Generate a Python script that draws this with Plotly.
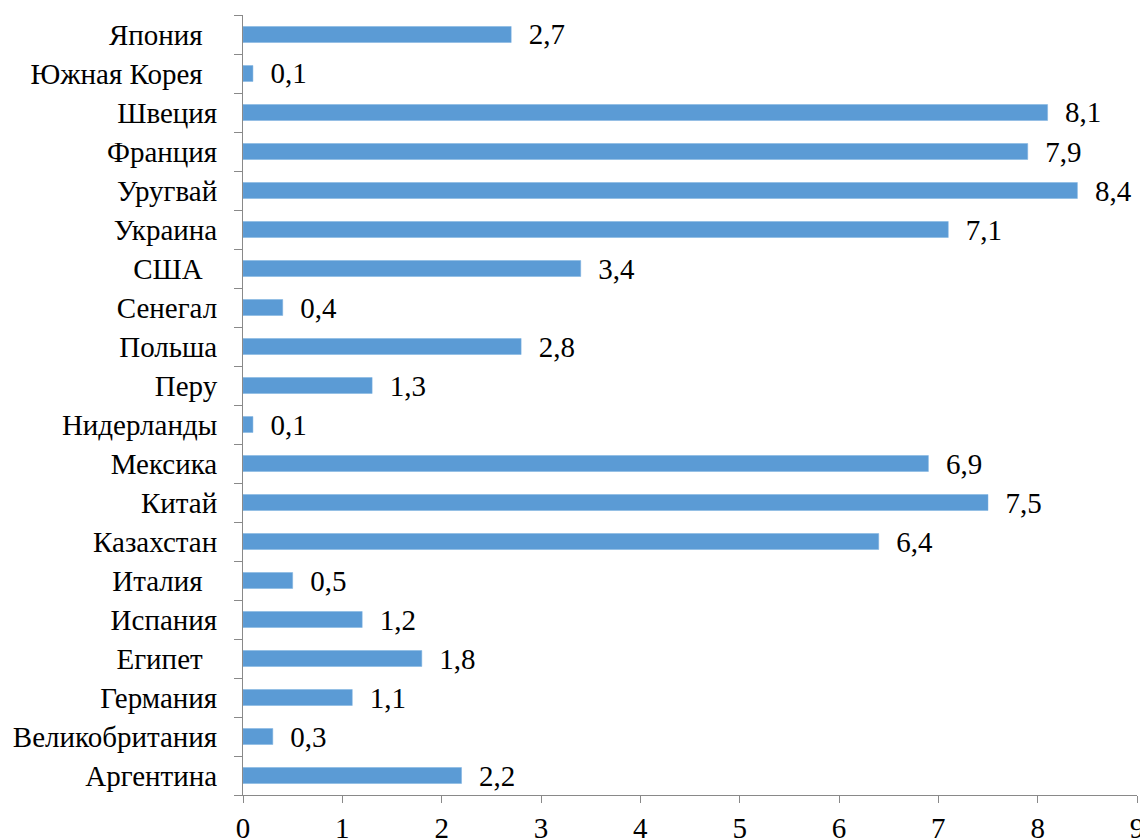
import plotly.graph_objects as go

countries = ["Аргентина", "Великобритания", "Германия", "Египет ", "Испания", "Италия ",
             "Казахстан", "Китай", "Мексика", "Нидерланды", "Перу", "Польша", "Сенегал",
             "США ", "Украина", "Уругвай", "Франция", "Швеция", "Южная Корея ", "Япония "]
values = [2.2, 0.3, 1.1, 1.8, 1.2, 0.5, 6.4, 7.5, 6.9, 0.1, 1.3, 2.8, 0.4, 3.4, 7.1, 8.4, 7.9, 8.1, 0.1, 2.7]
x_ticks = list(range(0, 10))

labels = ["\u00a0\u00a0" + f"{v:.1f}".replace(".", ",") for v in values]
display_names = [c.rstrip(" ") + ("\u00a0\u00a0" if c.endswith(" ") else "") for c in countries]

font = "Liberation Serif"
fs = 29

fig = go.Figure(go.Bar(
    y=countries, x=values, orientation="h",
    marker=dict(color="#5B9BD5", line=dict(color="#7FB2E0", width=0.5)),
    text=labels, textposition="outside", cliponaxis=False, constraintext="none",
    textfont=dict(family=font, size=fs, color="#000000"),
))

# page body has an 8px default margin; compensate so the plot lands where the reference is
fig.update_layout(
    width=1140, height=831,
    margin=dict(l=235, r=11, t=7, b=44),
    paper_bgcolor="white", plot_bgcolor="white",
    bargap=0.59, showlegend=False,
    font=dict(family=font, size=fs, color="#000000"),
)
fig.update_xaxes(
    range=[0, 9], tickvals=x_ticks, ticktext=[str(t) for t in x_ticks],
    showgrid=False, zeroline=False, showline=True, linecolor="#898989", linewidth=1,
    ticks="outside", ticklen=7, tickcolor="#898989", automargin=False,
    tickfont=dict(family=font, size=fs, color="#000000"),
)
fig.update_yaxes(
    type="category", categoryorder="array", categoryarray=countries,
    tickvals=countries, ticktext=display_names,
    range=[-0.5, len(countries) - 0.5],
    showgrid=False, zeroline=False, showline=True, linecolor="#898989", linewidth=1,
    ticks="outside", ticklen=8, tickcolor="#898989", tickson="boundaries",
    ticklabelstandoff=19, automargin=False,
    tickfont=dict(family=font, size=fs, color="#000000"),
)

fig.write_html("out.html")
